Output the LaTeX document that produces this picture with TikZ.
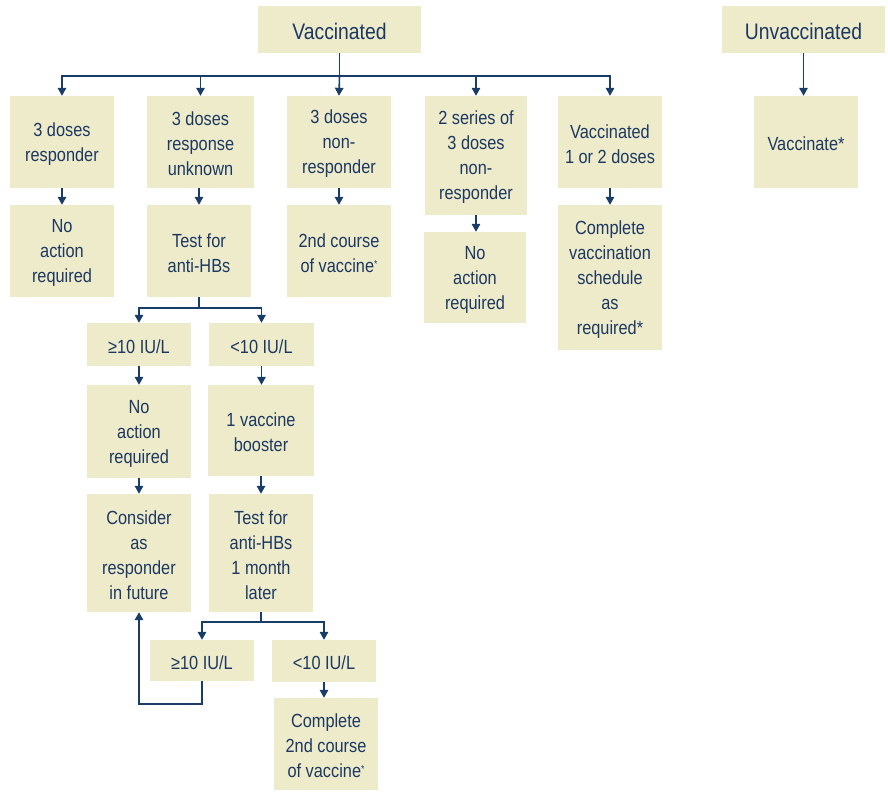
\documentclass[tikz,border=0pt]{standalone}
\usepackage{fontspec}
\setmainfont{Liberation Sans}[FakeStretch=0.86]
\usetikzlibrary{arrows.meta}
\definecolor{boxfill}{RGB}{237,235,201}
\definecolor{navy}{RGB}{28,56,98}
\definecolor{linec}{RGB}{25,60,105}
\tikzset{
  bx/.style={fill=boxfill, draw=none, inner sep=0pt},
  bxtext/.style={inner sep=0pt, align=center, text=navy,
    font=\fontsize{19}{25}\selectfont},
  titletext/.style={bxtext, font=\fontsize{22.5}{28}\selectfont},
  arr/.style={draw=linec, line width=1.6pt, -{Triangle[length=8pt,width=8.5pt]}},
  ln/.style={draw=linec, line width=1.6pt},
}
\newcommand\mkbox[7][bxtext]{%
  \node[bx, minimum width={#5pt-#3pt}, minimum height={#6pt-#4pt}]
    (#2) at ({(#3+#5)/2},{(#4+#6)/2}) {};
  \node[#1] (#2-t) at ([yshift=-2pt]#2.center) {#7};}
\newcommand\sast{\raisebox{5pt}{\fontsize{10}{10}\selectfont *}}
\begin{document}
\begin{tikzpicture}[x=1pt,y=-1pt]
\useasboundingbox (0,0) rectangle (888,797);
% top
\mkbox[titletext]{vac}{258}{6}{421}{53}{Vaccinated}
\mkbox[titletext]{unv}{722}{6}{885}{53}{Unvaccinated}
% row 1
\mkbox{a1}{10}{96}{114}{188}{3 doses\\responder}
\mkbox{a2}{147}{96}{254}{188}{3 doses\\response\\unknown}
\mkbox{a3}{287}{96}{391}{188}{3 doses\\non-\\responder}
\mkbox{a4}{425}{96}{527}{215}{2 series of\\3 doses\\non-\\responder}
\mkbox{a5}{558}{96}{662}{188}{Vaccinated\\1 or 2 doses}
\mkbox{a6}{754}{96}{858}{188}{Vaccinate*}
% row 2
\mkbox{b1}{10}{205}{114}{297}{No\\action\\required}
\mkbox{b2}{147}{205}{251}{297}{Test for\\anti-HBs}
\mkbox{b3}{287}{205}{391}{297}{2nd course\\of vaccine\sast}
\mkbox{b4}{424}{232}{526}{323}{No\\action\\required}
\mkbox{b5}{558}{205}{662}{350}{Complete\\vaccination\\schedule\\as\\required*}
% lower
\mkbox{c1}{87}{323}{191}{366}{≥10 IU/L}
\mkbox{c2}{209}{323}{314}{366}{<10 IU/L}
\mkbox{d1}{87}{385}{191}{478}{No\\action\\required}
\mkbox{d2}{208}{385}{314}{476}{1 vaccine\\booster}
\mkbox{e1}{87}{494}{191}{612}{Consider\\as\\responder\\in future}
\mkbox{e2}{209}{494}{313}{612}{Test for\\anti-HBs\\1 month\\later}
\mkbox{f1}{150}{640}{254}{681}{≥10 IU/L}
\mkbox{f2}{272}{640}{376}{682}{<10 IU/L}
\mkbox{g2}{274}{698}{378}{790}{Complete\\2nd course\\of vaccine\sast}
% connectors
\coordinate (j1) at (339.5,76);
\draw[ln] (vac.south) -- (j1);
\draw[arr] (j1) -| (a1.north);
\draw[arr] (j1) -| (a2.north);
\draw[arr] (j1) -- (a3.north);
\draw[arr] (j1) -| (a4.north);
\draw[arr] (j1) -| (a5.north);
\draw[arr] (unv.south) -- (unv.south |- a6.north);
\draw[arr] (a1.south) -- (b1.north);
\draw[arr] (b2.north |- a2.south) -- (b2.north);
\draw[arr] (a3.south) -- (b3.north);
\draw[arr] (a4.south) -- (a4.south |- b4.north);
\draw[arr] (a5.south) -- (b5.north);
\coordinate (j2) at (199,308);
\draw[ln] (b2.south) -- (j2);
\draw[arr] (j2) -| (c1.north);
\draw[arr] (j2) -| (c2.north);
\draw[arr] (c1.south) -- (d1.north);
\draw[arr] (c2.south) -- (c2.south |- d2.north);
\draw[arr] (d1.south) -- (e1.north);
\draw[arr] (d2.south) -- (d2.south |- e2.north);
\coordinate (j3) at (261,622);
\draw[ln] (e2.south) -- (j3);
\draw[arr] (j3) -| (f1.north);
\draw[arr] (j3) -| (f2.north);
\draw[arr] (f2.south) -- (f2.south |- g2.north);
\draw[arr] (f1.south) -- ++(0,23) -| (e1.south);
\end{tikzpicture}
\end{document}
